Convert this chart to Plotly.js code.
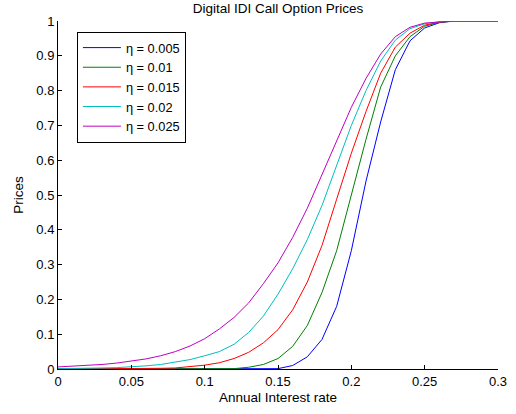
<!DOCTYPE html>
<html>
<head>
<meta charset="utf-8">
<script src="https://cdn.plot.ly/plotly-3.0.1.min.js"></script>
<style>html,body{margin:0;padding:0;background:#fff;}#chart{width:516px;height:414px;}</style>
</head>
<body>
<div id="chart"></div>
<script>
// Annual interest rate samples (0 to 0.3 step 0.01)
const rates = [0,0.01,0.02,0.03,0.04,0.05,0.06,0.07,0.08,0.09,0.10,0.11,0.12,0.13,0.14,0.15,0.16,0.17,0.18,0.19,0.20,0.21,0.22,0.23,0.24,0.25,0.26,0.27,0.28,0.29,0.30];

const eta005 = [0,0,0,0,0,0,0,0,0,0,0,0,0,0,0,0.001,0.010,0.035,0.085,0.180,0.340,0.540,0.710,0.860,0.943,0.980,0.995,1,1,1,1];
const eta010 = [0,0,0,0,0,0,0,0,0,0,0,0,0.001,0.005,0.013,0.030,0.065,0.125,0.220,0.340,0.500,0.660,0.810,0.900,0.955,0.985,0.996,1,1,1,1];
const eta015 = [0,0,0,0,0,0,0.001,0.002,0.003,0.006,0.011,0.018,0.030,0.048,0.075,0.113,0.170,0.250,0.355,0.488,0.620,0.740,0.850,0.925,0.965,0.988,0.997,1,1,1,1];
const eta020 = [0.001,0.001,0.002,0.003,0.004,0.006,0.009,0.013,0.019,0.027,0.038,0.050,0.071,0.105,0.152,0.215,0.288,0.372,0.470,0.585,0.700,0.800,0.885,0.945,0.978,0.992,0.998,1,1,1,1];
const eta025 = [0.006,0.008,0.010,0.013,0.017,0.022,0.029,0.038,0.050,0.066,0.087,0.115,0.148,0.190,0.245,0.305,0.378,0.462,0.558,0.655,0.752,0.835,0.905,0.955,0.982,0.994,0.998,1,1,1,1];

const seriesNames = ["η = 0.005","η = 0.01","η = 0.015","η = 0.02","η = 0.025"];
const seriesValues = [eta005, eta010, eta015, eta020, eta025];
const seriesColors = ["#0000ff","#008000","#ff0000","#00bfbf","#bf00bf"];

const xTicks = [0,0.05,0.1,0.15,0.2,0.25,0.3];
const xTickText = ["0","0.05","0.1","0.15","0.2","0.25","0.3"];
const yTicks = [0,0.1,0.2,0.3,0.4,0.5,0.6,0.7,0.8,0.9,1];
const yTickText = ["0","0.1","0.2","0.3","0.4","0.5","0.6","0.7","0.8","0.9","1"];

const font = "Liberation Sans, Arial, Helvetica, sans-serif";

const traces = seriesValues.map((v, i) => ({
  x: rates, y: v, type: "scatter", mode: "lines",
  name: seriesNames[i],
  line: {color: seriesColors[i], width: 1}
}));

const layout = {
  width: 516, height: 414,
  margin: {l: 58, r: 18, t: 21, b: 45},
  paper_bgcolor: "#ffffff", plot_bgcolor: "#ffffff",
  font: {family: font, size: 13.5, color: "#000"},
  title: {text: "Digital IDI Call Option Prices", x: 0.5, xref: "paper", y: 0.981, yref: "container", yanchor: "middle", font: {family: font, size: 13.5, color: "#000"}},
  xaxis: {
    range: [0, 0.3], tickvals: xTicks, ticktext: xTickText,
    ticks: "inside", ticklen: 4, tickcolor: "#000", tickwidth: 1,
    tickfont: {family: font, size: 13},
    showline: true, linecolor: "#000", linewidth: 1, mirror: false,
    showgrid: false, zeroline: false,
    title: {text: "Annual Interest rate", standoff: 4, font: {family: font, size: 13.5}}
  },
  yaxis: {
    range: [0, 1], tickvals: yTicks, ticktext: yTickText,
    ticks: "inside", ticklen: 4, tickcolor: "#000", tickwidth: 1,
    tickfont: {family: font, size: 13},
    showline: true, linecolor: "#000", linewidth: 1, mirror: false,
    showgrid: false, zeroline: false,
    title: {text: "Prices", standoff: 9, font: {family: font, size: 13.5}}
  },
  showlegend: true,
  legend: {
    x: 0.043, y: 0.969, xanchor: "left", yanchor: "top",
    bordercolor: "#000", borderwidth: 1, bgcolor: "#fff",
    font: {family: font, size: 12.8}, itemwidth: 38, tracegroupgap: 0
  }
};

Plotly.newPlot("chart", traces, layout, {displayModeBar: false, staticPlot: true});
</script>
</body>
</html>
